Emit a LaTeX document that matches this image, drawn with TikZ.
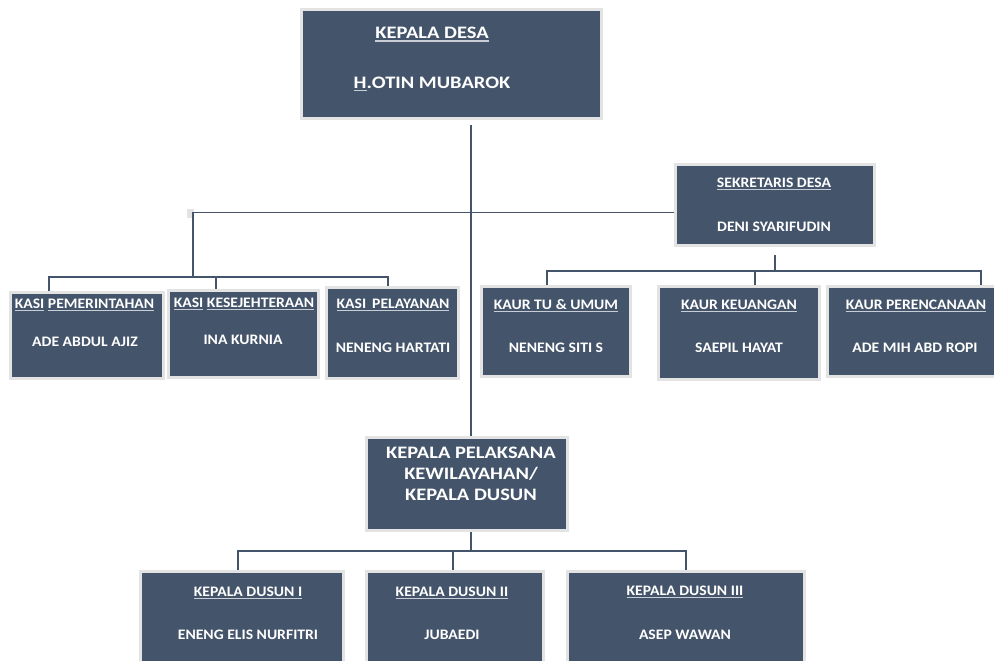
\documentclass[tikz,border=0pt]{standalone}
\usepackage{fontspec}
\setmainfont{Carlito}[FakeStretch=1.08]
\newfontfamily\hurufbesar{Carlito}[FakeStretch=1.17]
\definecolor{boxfill}{HTML}{44546A}
\definecolor{boxedge}{HTML}{E3E3E3}
\definecolor{linecol}{HTML}{44546A}
\definecolor{ulgray}{HTML}{C9CED6}
\newcommand\undl[1]{\setbox0\hbox{#1}\rlap{\color{ulgray}\rule[-2.6pt]{\wd0}{1.3pt}}\box0\relax}
\tikzset{
  jabatan/.style={draw=boxedge, line width=3pt, fill=boxfill, inner sep=0pt},
  teks/.style={text=white, font=\bfseries\fontsize{14.5}{17}\selectfont, anchor=base, inner sep=0pt},
  teksbesar/.style={text=white, font=\hurufbesar\bfseries\fontsize{17.5}{21}\selectfont, anchor=base, inner sep=0pt},
  garis/.style={draw=linecol, line width=1.8pt}
}
\begin{document}
\begin{tikzpicture}[x=1pt, y=-1pt]
  \useasboundingbox (0, 0) rectangle (994, 661);

  %%draw the boxes
  \node[jabatan, minimum width=300pt, minimum height=109pt] (kades) at (451.5, 64){};
  \node[jabatan, minimum width=199pt, minimum height=81pt] (sekdes) at (775, 205){};
  \node[jabatan, minimum width=153pt, minimum height=86pt] (kasipem) at (87, 335.5){};
  \node[jabatan, minimum width=150pt, minimum height=87pt] (kasikes) at (243.5, 334){};
  \node[jabatan, minimum width=132pt, minimum height=91pt] (kasipel) at (392.5, 333){};
  \node[jabatan, minimum width=149pt, minimum height=90pt] (kaurtu) at (556, 331.5){};
  \node[jabatan, minimum width=161pt, minimum height=93pt] (kaurkeu) at (739, 333){};
  \node[jabatan, minimum width=177pt, minimum height=90pt] (kaurren) at (916, 331.5){};
  \node[jabatan, minimum width=201pt, minimum height=93pt] (kapel) at (467, 484){};
  \node[jabatan, minimum width=203pt, minimum height=110pt] (kadus1) at (242, 626.5){};
  \node[jabatan, minimum width=177pt, minimum height=110pt] (kadus2) at (455, 626.5){};
  \node[jabatan, minimum width=237pt, minimum height=110pt] (kadus3) at (686, 626.5){};

  %%draw the texts
  \node[teksbesar] (t-kades) at (432, 39){\undl{KEPALA DESA}};
  \node[teksbesar] (n-kades) at (432, 88.5){\undl{H}.OTIN MUBAROK};
  \node[teks] (t-sekdes) at (774, 187.5){\undl{SEKRETARIS DESA}};
  \node[teks] (n-sekdes) at (774, 231.5){DENI SYARIFUDIN};
  \node[teks] (t-kasipem) at (84.5, 308.5){\undl{KASI} \undl{PEMERINTAHAN}};
  \node[teks] (n-kasipem) at (85, 346.5){ADE ABDUL AJIZ};
  \node[teks] (t-kasikes) at (244, 307.5){\undl{KASI} \undl{KESEJEHTERAAN}};
  \node[teks] (n-kasikes) at (243, 344.5){INA KURNIA};
  \node[teks] (t-kasipel) at (393, 308.5){\undl{KASI\,\ PELAYANAN}};
  \node[teks] (n-kasipel) at (393, 352.5){NENENG HARTATI};
  \node[teks] (t-kaurtu) at (556, 309.5){\undl{KAUR TU \& UMUM}};
  \node[teks] (n-kaurtu) at (556, 352.5){NENENG SITI S};
  \node[teks] (t-kaurkeu) at (739, 309.5){\undl{KAUR KEUANGAN}};
  \node[teks] (n-kaurkeu) at (739, 352.5){SAEPIL HAYAT};
  \node[teks] (t-kaurren) at (916, 309.5){\undl{KAUR PERENCANAAN}};
  \node[teks] (n-kaurren) at (915, 352.5){ADE MIH ABD ROPI};
  \node[teksbesar, anchor=center, align=center] (t-kapel) at (471, 474){KEPALA PELAKSANA\\KEWILAYAHAN/\\KEPALA DUSUN};
  \node[teks] (t-kadus1) at (248, 596.5){\undl{KEPALA DUSUN I}};
  \node[teks] (n-kadus1) at (248, 639.5){ENENG ELIS NURFITRI};
  \node[teks] (t-kadus2) at (452, 596.5){\undl{KEPALA DUSUN II}};
  \node[teks] (n-kadus2) at (452, 639.5){JUBAEDI};
  \node[teks] (t-kadus3) at (685, 595.5){\undl{KEPALA DUSUN III}};
  \node[teks] (n-kadus3) at (685, 639.5){ASEP WAWAN};

  %%draw the lines
  \coordinate (trunk) at (471, 125);
  \draw[garis] (trunk) -- (trunk |- kapel.north);
  \coordinate (kirihub) at (193, 212.5);
  \fill[boxedge] (187, 209) rectangle (193.5, 218);
  \draw[garis] (kirihub -| sekdes.west) -- (kirihub) -- (193, 277);
  \coordinate (kasibar) at (49, 277);
  \draw[garis] (kasipem.north -| kasibar) -- (kasibar) -- (388, 277) -- (388, 277 |- kasipel.north);
  \draw[garis] (216, 277) -- (216, 277 |- kasikes.north);
  \coordinate (sekbawah) at (775, 255);
  \coordinate (kaurbar) at (547, 271);
  \draw[garis] (sekbawah) -- (sekbawah |- kaurbar);
  \draw[garis] (kaurtu.north -| kaurbar) -- (kaurbar) -- (981, 271) -- (981, 271 |- kaurren.north);
  \draw[garis] (755, 271) -- (755, 271 |- kaurkeu.north);
  \coordinate (dusbar) at (238, 551);
  \draw[garis] (trunk |- kapel.south) -- (trunk |- dusbar);
  \draw[garis] (kadus1.north -| dusbar) -- (dusbar) -- (686, 551) -- (686, 551 |- kadus3.north);
  \draw[garis] (453, 551) -- (453, 551 |- kadus2.north);
\end{tikzpicture}
\end{document}
